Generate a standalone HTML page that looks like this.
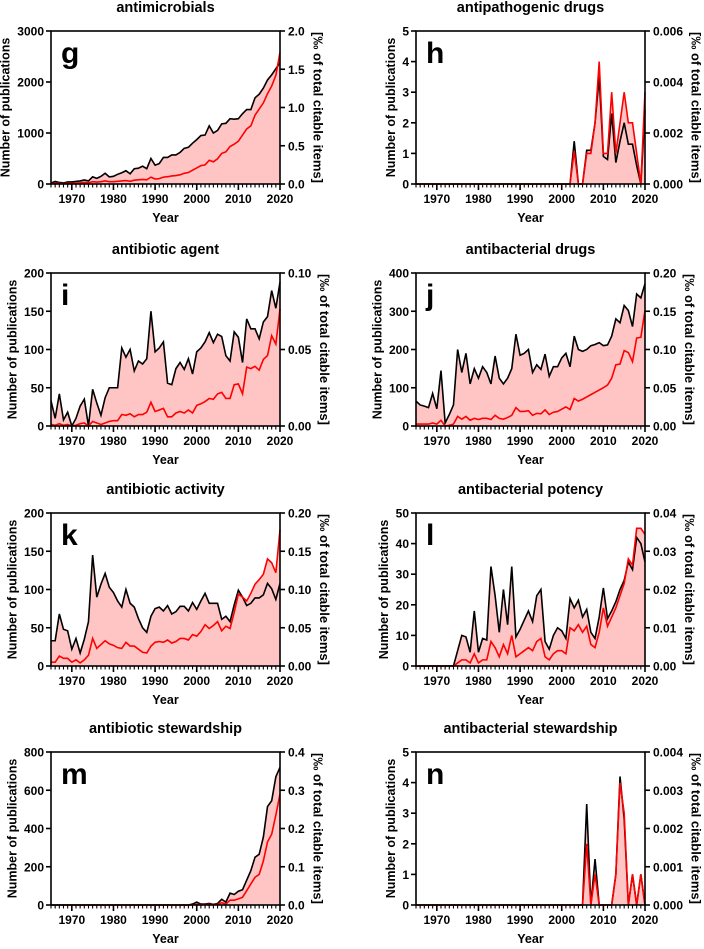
<!DOCTYPE html>
<html><head><meta charset="utf-8"><style>
body{margin:0;background:#fff;}
svg text{font-family:"Liberation Sans",Arial,sans-serif;font-weight:bold;fill:#000;}
</style></head><body>
<svg id="fig" width="704" height="944" viewBox="0 0 704 944" xmlns="http://www.w3.org/2000/svg"></svg>
<script>
const years = [];
for (let y = 1965; y <= 2020; y++) years.push(y);
const Z10 = [0,0,0,0,0,0,0,0,0,0];

const gCounts = [20,50,30,20,40,40,50,60,80,60,140,110,150,210,140,150,190,220,260,200,300,310,350,300,500,370,400,520,520,570,570,620,700,720,800,870,950,960,1140,1000,1050,1180,1190,1280,1270,1280,1380,1460,1460,1690,1760,1880,2040,2140,2260,2380];
const gShare = [0.005,0.01,0.008,0.005,0.01,0.01,0.012,0.015,0.02,0.015,0.03,0.025,0.03,0.04,0.03,0.03,0.035,0.04,0.045,0.035,0.05,0.055,0.06,0.055,0.09,0.065,0.07,0.09,0.095,0.105,0.11,0.12,0.14,0.15,0.18,0.21,0.24,0.25,0.31,0.29,0.33,0.4,0.42,0.49,0.52,0.56,0.64,0.72,0.76,0.9,0.98,1.06,1.18,1.28,1.42,1.72];

// 1965-2002 zeros, then 2003-2020
const hCounts = [].concat(Z10,Z10,Z10,[0,0,0,0,0,0,0,0],[1.4,0,0,1.1,1.1,2,3.5,0.9,0.8,2.3,0.7,1.4,2,1.3,1.3,0.6,0,2.4]);
const hShare = [].concat(Z10,Z10,Z10,[0,0,0,0,0,0,0,0],[0.0013,0,0,0.0012,0.0012,0.0024,0.0048,0.0012,0.0012,0.0036,0.0012,0.0024,0.0036,0.0024,0.0024,0.0012,0,0.0036]);

const iCounts = [33,10,42,8,18,0,10,26,35,0,48,30,14,37,50,50,50,102,90,100,72,85,81,88,150,97,102,110,56,54,75,83,74,88,68,97,102,110,122,109,120,117,92,85,123,116,83,140,127,127,114,136,143,177,154,188];
const iShare = [0.001,0.0005,0.0015,0.0005,0.001,0,0.0005,0.0015,0.002,0,0.003,0.002,0.001,0.002,0.003,0.0035,0.0035,0.0075,0.007,0.008,0.006,0.0075,0.0075,0.009,0.0155,0.0095,0.0105,0.0115,0.006,0.006,0.0085,0.0095,0.0085,0.0105,0.0085,0.0135,0.0145,0.016,0.018,0.0175,0.021,0.022,0.018,0.018,0.027,0.0275,0.021,0.0385,0.0375,0.039,0.0365,0.0435,0.046,0.059,0.0535,0.0765];

const jCounts = [65,55,52,48,85,45,145,8,30,55,200,140,190,110,150,125,155,140,110,183,125,110,125,150,240,185,190,200,140,160,148,188,130,155,155,178,190,155,235,200,195,200,210,213,218,210,212,235,280,270,315,302,260,345,335,372];
const jShare = [0.0025,0.0025,0.0025,0.0025,0.004,0.0025,0.0075,0,0.001,0.0025,0.0125,0.009,0.0125,0.0075,0.01,0.0085,0.01,0.01,0.0085,0.014,0.01,0.009,0.011,0.014,0.024,0.019,0.019,0.02,0.014,0.0165,0.016,0.021,0.015,0.018,0.019,0.022,0.025,0.0215,0.036,0.0325,0.035,0.038,0.041,0.044,0.047,0.05,0.0535,0.0625,0.08,0.081,0.0985,0.096,0.084,0.115,0.116,0.151];

const kCounts = [33,33,68,48,46,22,36,17,35,58,145,90,107,121,103,96,85,77,100,82,77,62,50,44,65,75,77,72,79,68,71,78,78,72,83,74,85,95,82,82,82,61,65,58,80,99,90,79,82,89,89,93,108,101,87,108];
const kShare = [0.005,0.005,0.013,0.01,0.01,0.005,0.008,0.004,0.008,0.014,0.036,0.023,0.028,0.033,0.029,0.027,0.024,0.023,0.031,0.026,0.026,0.022,0.018,0.017,0.026,0.031,0.032,0.031,0.034,0.03,0.032,0.036,0.036,0.034,0.041,0.039,0.045,0.054,0.049,0.053,0.058,0.046,0.052,0.049,0.07,0.094,0.09,0.085,0.095,0.107,0.113,0.12,0.14,0.135,0.122,0.178];

const lCounts = [0,0,0,0,0,0,0,0,0,0,5,10,9.5,4.5,18,4.5,9,8.5,32.5,23,11,25,13.5,32.5,9.5,12,15,18,14.5,23,25,8,5.5,10,12.5,11.5,9,22,19,21.5,16,18.5,11,9,16,25.5,15.5,18,21,25,28,34,31.5,42,40,34];
const lShare = [0,0,0,0,0,0,0,0,0,0,0.0008,0.0016,0.0016,0.0008,0.0032,0.0008,0.0016,0.0016,0.0064,0.0048,0.0024,0.0056,0.0032,0.008,0.0024,0.0032,0.004,0.0048,0.004,0.0064,0.0072,0.0024,0.0016,0.0032,0.004,0.004,0.0032,0.01,0.0092,0.0108,0.0088,0.0104,0.0056,0.0048,0.0088,0.0152,0.0104,0.0128,0.0152,0.0184,0.0216,0.028,0.0264,0.036,0.036,0.0344];

const mCounts = [].concat(Z10,Z10,Z10,[0,0,0,0],[5,15,5,5,8,3,8,30,15,62,55,72,80,130,180,250,265,355,515,545,670,720]);
const mShare = [].concat(Z10,Z10,Z10,[0,0,0,0],[0,0.0015,0.001,0.001,0.0015,0.0005,0.0015,0.006,0.0025,0.0125,0.0125,0.016,0.02,0.0375,0.055,0.0725,0.08,0.115,0.165,0.185,0.235,0.29]);

// 1965-2005 zeros, then 2006-2020
const nCounts = [].concat(Z10,Z10,Z10,Z10,[0],[3.3,0,1.5,0,0,0,0,1,4.2,2.8,0,1,0,1,0]);
const nShare = [].concat(Z10,Z10,Z10,Z10,[0],[0.0016,0,0.0008,0,0,0,0,0.0008,0.0032,0.0024,0,0.0008,0,0.0008,0]);

const xTicks = [1970,1980,1990,2000,2010,2020];

const panels = [
 {id:'g',title:'antimicrobials',c:gCounts,s:gShare,lt:['0','1000','2000','3000'],rt:['0.0','0.5','1.0','1.5','2.0'],col:0,row:0},
 {id:'h',title:'antipathogenic drugs',c:hCounts,s:hShare,lt:['0','1','2','3','4','5'],rt:['0.000','0.002','0.004','0.006'],col:1,row:0},
 {id:'i',title:'antibiotic agent',c:iCounts,s:iShare,lt:['0','50','100','150','200'],rt:['0.00','0.05','0.10'],col:0,row:1},
 {id:'j',title:'antibacterial drugs',c:jCounts,s:jShare,lt:['0','100','200','300','400'],rt:['0.00','0.05','0.10','0.15','0.20'],col:1,row:1},
 {id:'k',title:'antibiotic activity',c:kCounts,s:kShare,lt:['0','50','100','150','200'],rt:['0.00','0.05','0.10','0.15','0.20'],col:0,row:2},
 {id:'l',title:'antibacterial potency',c:lCounts,s:lShare,lt:['0','10','20','30','40','50'],rt:['0.00','0.01','0.02','0.03','0.04'],col:1,row:2},
 {id:'m',title:'antibiotic stewardship',c:mCounts,s:mShare,lt:['0','200','400','600','800'],rt:['0.0','0.1','0.2','0.3','0.4'],col:0,row:3},
 {id:'n',title:'antibacterial stewardship',c:nCounts,s:nShare,lt:['0','1','2','3','4','5'],rt:['0.000','0.001','0.002','0.003','0.004'],col:1,row:3}
];

const NS='http://www.w3.org/2000/svg';
const svg=document.getElementById('fig');
function mk(tag,attrs,parent){const e=document.createElementNS(NS,tag);for(const k in attrs)e.setAttribute(k,attrs[k]);(parent||svg).appendChild(e);return e;}
function labW(s){let w=0;for(const ch of s)w+=(ch==='.'?3.4:6.7);return w;}

const colLeft=[51,416], W=229, rowTop=[31,273,513,752], H=153;

panels.forEach(p=>{
  const L=colLeft[p.col], T=rowTop[p.row], B=T+H, R=L+W;
  const g=mk('g',{});
  
  
  const lmax=parseFloat(p.lt[p.lt.length-1]), rmax=parseFloat(p.rt[p.rt.length-1]);
  const x=yr=>L+(yr-1965)/(2020-1965)*W;
  const yl=v=>B-v/lmax*H;
  const yr_=v=>B-v/rmax*H;
  const t=mk('text',{x:L+W/2,y:T-19,'text-anchor':'middle','font-size':'14.5'},g);t.textContent=p.title;
  
  
  function area(vals,fy,name){
    let d='M'+x(years[0])+','+B;
    vals.forEach((v,i)=>{d+=' L'+x(years[i]).toFixed(2)+','+fy(v).toFixed(2);});
    d+=' L'+x(years[years.length-1])+','+B+' Z';
    const a=mk('path',{d:d,fill:'#ffc4c4',stroke:'none'},g);
    
    
  }
  area(p.c,yl,'count-area');
  area(p.s,yr_,'share-area');
  function line(vals,fy,color,name){
    const pts=vals.map((v,i)=>x(years[i]).toFixed(2)+','+fy(v).toFixed(2)).join(' ');
    const l=mk('polyline',{points:pts,fill:'none',stroke:color,'stroke-width':'1.6','stroke-linejoin':'miter'},g);
    
    
  }
  line(p.c,yl,'#000','count-line');
  line(p.s,yr_,'#ff0000','share-line');
  const fr=mk('rect',{x:L,y:T,width:W,height:H,fill:'none',stroke:'#000','stroke-width':'1.6'},g);
  
  
  years.forEach(yy=>{
    const major=yy%10===0;
    mk('line',{x1:x(yy),x2:x(yy),y1:B,y2:B+(major?6:3.5),stroke:'#000','stroke-width':major?'1.6':'1.1'},g);
  });
  xTicks.forEach(yy=>{
    const tx=mk('text',{x:x(yy),y:B+19,'text-anchor':'middle','font-size':'12'},g);tx.textContent=yy;
    
    
  });
  const xt=mk('text',{x:L+W/2,y:B+38,'text-anchor':'middle','font-size':'12.5'},g);xt.textContent='Year';
  
  
  let lw=0, rw=0;
  p.lt.forEach(s=>{
    lw=Math.max(lw,labW(s));
    const yy=yl(parseFloat(s));
    mk('line',{x1:L-5,x2:L,y1:yy,y2:yy,stroke:'#000','stroke-width':'1.6'},g);
    const tl=mk('text',{x:L-7,y:yy+4.5,'text-anchor':'end','font-size':'12'},g);tl.textContent=s;
    
    
  });
  p.rt.forEach(s=>{
    rw=Math.max(rw,labW(s));
    const yy=yr_(parseFloat(s));
    mk('line',{x1:R,x2:R+5,y1:yy,y2:yy,stroke:'#000','stroke-width':'1.6'},g);
    const tr=mk('text',{x:R+8,y:yy+4.5,'text-anchor':'start','font-size':'12'},g);tr.textContent=s;
    
    
  });
  const cy=T+H/2;
  const lx=L-7-lw-12, rx=R+8+rw+13;
  const ylt=mk('text',{x:0,y:0,'text-anchor':'middle','font-size':'12.5',transform:'translate('+(lx+4.5)+','+cy+') rotate(-90)'},g);
  ylt.textContent='Number of publications';
  
  
  const yrt=mk('text',{x:0,y:0,'text-anchor':'middle','font-size':'13',transform:'translate('+(rx-4.5)+','+cy+') rotate(90)'},g);
  yrt.textContent='[‰ of total citable items]';
  
  
  const pl=mk('text',{x:L+10,y:T+32,'font-size':'30'},g);pl.textContent=p.id;
  
  
});
</script>
</body></html>
